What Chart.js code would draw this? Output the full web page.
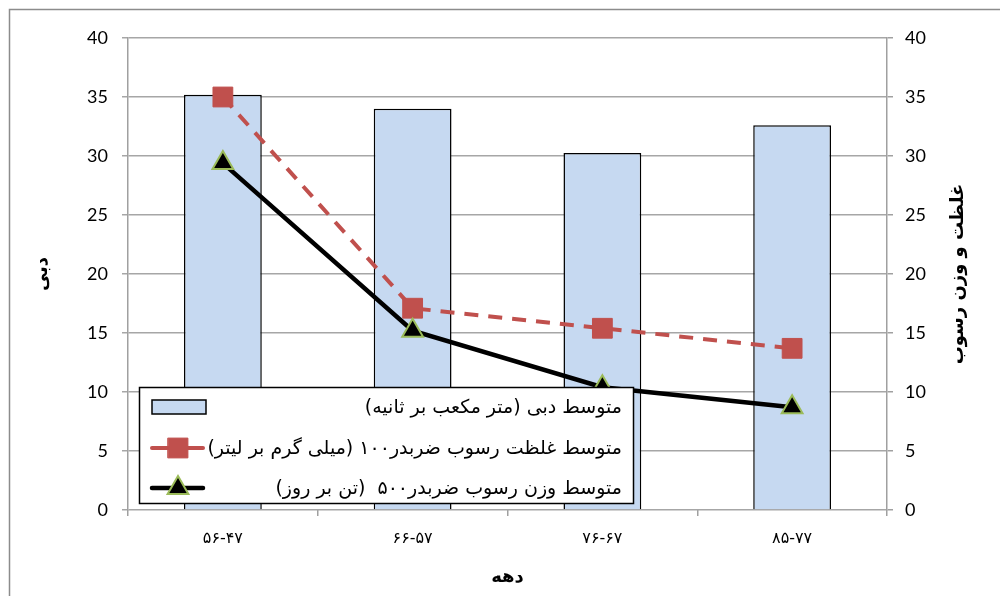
<!DOCTYPE html>
<html>
<head>
<meta charset="utf-8">
<script src="https://cdn.jsdelivr.net/npm/chart.js@4.4.0/dist/chart.umd.min.js"></script>
<style>
html, body { margin: 0; padding: 0; background: #fff; }
</style>
</head>
<body>
<canvas id="grafica" width="1000" height="596"></canvas>
<script>
// datos
const dahe = ['۵۶-۴۷', '۶۶-۵۷', '۷۶-۶۷', '۸۵-۷۷']
const debi = [35.2, 34.0, 30.25, 32.6]
const ghelzat = [35.0, 17.1, 15.4, 13.7]
const vazn = [29.4, 15.2, 10.4, 8.7]
const nombres = [
    'متوسط دبی (متر مکعب بر ثانیه)',
    'متوسط غلظت رسوب ضربدر۱۰۰ (میلی گرم بر لیتر)',
    'متوسط وزن رسوب ضربدر۵۰۰  (تن بر روز)'
]
const tituloX = 'دهه'
const tituloY = 'دبی'
const tituloY1 = 'غلظت و وزن رسوب'
const ticksY = [0, 40, 5]

const fa = '"DejaVu Sans", sans-serif'
const num = 'Lato, "Open Sans", sans-serif'

//marco exterior y titulo del eje derecho
const marco = {
    id: 'marco',
    beforeDraw(chart) {
        const ctx = chart.ctx
        ctx.save()
        ctx.strokeStyle = '#8c8c8c'
        ctx.lineWidth = 1.5
        ctx.strokeRect(9.5, 9.5, 1200, 800)
        ctx.restore()
    },
    afterDraw(chart) {
        const ctx = chart.ctx
        ctx.save()
        ctx.translate(958, (chart.chartArea.top + chart.chartArea.bottom) / 2)
        ctx.rotate(-Math.PI / 2)
        ctx.font = 'bold 18px ' + fa
        ctx.fillStyle = '#000'
        ctx.textAlign = 'center'
        ctx.textBaseline = 'middle'
        ctx.direction = 'rtl'
        ctx.fillText(tituloY1, 0, 0)
        ctx.restore()
    }
}

//leyenda dibujada encima del area del grafico
const leyenda = {
    id: 'leyenda',
    afterDraw(chart) {
        const ctx = chart.ctx
        const x0 = 139.5, y0 = 387.5, w = 494, h = 116
        const filas = [407, 448, 488]
        ctx.save()
        ctx.fillStyle = '#fff'
        ctx.fillRect(x0, y0, w, h)
        ctx.strokeStyle = '#000'
        ctx.lineWidth = 1.5
        ctx.strokeRect(x0, y0, w, h)
        chart.data.datasets.forEach((ds, i) => {
            const y = filas[i]
            if (ds.type === 'bar') {
                ctx.fillStyle = ds.backgroundColor
                ctx.fillRect(152, y - 7, 54, 14)
                ctx.strokeStyle = ds.borderColor
                ctx.lineWidth = 1.5
                ctx.strokeRect(152, y - 7, 54, 14)
            } else {
                ctx.strokeStyle = ds.borderColor
                ctx.lineWidth = ds.borderWidth
                ctx.lineCap = 'round'
                ctx.setLineDash([])
                ctx.beginPath()
                ctx.moveTo(152, y)
                ctx.lineTo(203, y)
                ctx.stroke()
                ctx.fillStyle = ds.pointBackgroundColor
                ctx.strokeStyle = ds.pointBorderColor
                ctx.lineWidth = ds.pointBorderWidth
                Chart.helpers.drawPoint(ctx, {
                    pointStyle: ds.pointStyle,
                    radius: ds.pointRadius,
                    borderWidth: ds.pointBorderWidth,
                    rotation: 0
                }, 178, y)
            }
            ctx.fillStyle = '#000'
            ctx.font = '19px ' + fa
            ctx.direction = 'rtl'
            ctx.textAlign = 'right'
            ctx.textBaseline = 'middle'
            ctx.fillText(ds.label, 622, y + 1)
        })
        ctx.restore()
    }
}

const ctx = document.getElementById('grafica').getContext('2d')
const chart = new Chart(ctx, {
    data: {
        labels: dahe,
        datasets: [{
            type: 'bar',
            label: nombres[0],
            data: debi,
            backgroundColor: '#c6d9f1',
            borderColor: '#000',
            borderWidth: 1.5,
            barPercentage: 0.41,
            categoryPercentage: 1,
            yAxisID: 'y',
            order: 3
        }, {
            type: 'line',
            label: nombres[1],
            data: ghelzat,
            borderColor: '#c0504d',
            borderWidth: 4,
            borderDash: [14, 10],
            pointStyle: 'rect',
            pointRadius: 14,
            pointBackgroundColor: '#c0504d',
            pointBorderColor: '#c0504d',
            pointBorderWidth: 1,
            yAxisID: 'y1',
            order: 2
        }, {
            type: 'line',
            label: nombres[2],
            data: vazn,
            borderColor: '#000',
            borderWidth: 4.5,
            pointStyle: 'triangle',
            pointRadius: 12,
            pointBackgroundColor: '#000',
            pointBorderColor: '#9bbb59',
            pointBorderWidth: 2,
            yAxisID: 'y1',
            order: 1
        }]
    },
    options: {
        responsive: false,
        animation: false,
        devicePixelRatio: 1,
        layout: { padding: { top: 38, left: 0, right: 0, bottom: 0 } },
        plugins: {
            legend: { display: false },
            tooltip: { enabled: false }
        },
        scales: {
            x: {
                offset: true,
                grid: { offset: true, drawOnChartArea: false, tickLength: 6, color: '#a0a0a0', lineWidth: 1.5 },
                border: { display: false },
                ticks: { color: '#000', font: { family: fa, size: 16 }, padding: 13 },
                title: { display: true, text: tituloX, color: '#000', font: { family: fa, size: 18, weight: 'bold' }, padding: { top: 0, bottom: 8 } },
                afterFit: (s) => { s.height = 86 }
            },
            y: {
                position: 'left',
                min: ticksY[0], max: ticksY[1],
                ticks: { stepSize: ticksY[2], color: '#000', font: { family: num, size: 18 }, padding: 14 },
                grid: { color: '#a6a6a6', lineWidth: 1.5, tickLength: 6 },
                border: { color: '#a0a0a0', width: 1.5 },
                title: { display: true, text: tituloY, color: '#000', font: { family: fa, size: 18, weight: 'bold' }, padding: { top: 32 } },
                afterFit: (s) => { s.width = 128 }
            },
            y1: {
                position: 'right',
                min: ticksY[0], max: ticksY[1],
                ticks: { stepSize: ticksY[2], color: '#000', font: { family: num, size: 18 }, padding: 12 },
                grid: { drawOnChartArea: false, color: '#a0a0a0', lineWidth: 1.5, tickLength: 6 },
                border: { color: '#a0a0a0', width: 1.5 },
                afterFit: (s) => { s.width = 113 }
            }
        }
    },
    plugins: [marco, leyenda]
})
</script>
</body>
</html>
